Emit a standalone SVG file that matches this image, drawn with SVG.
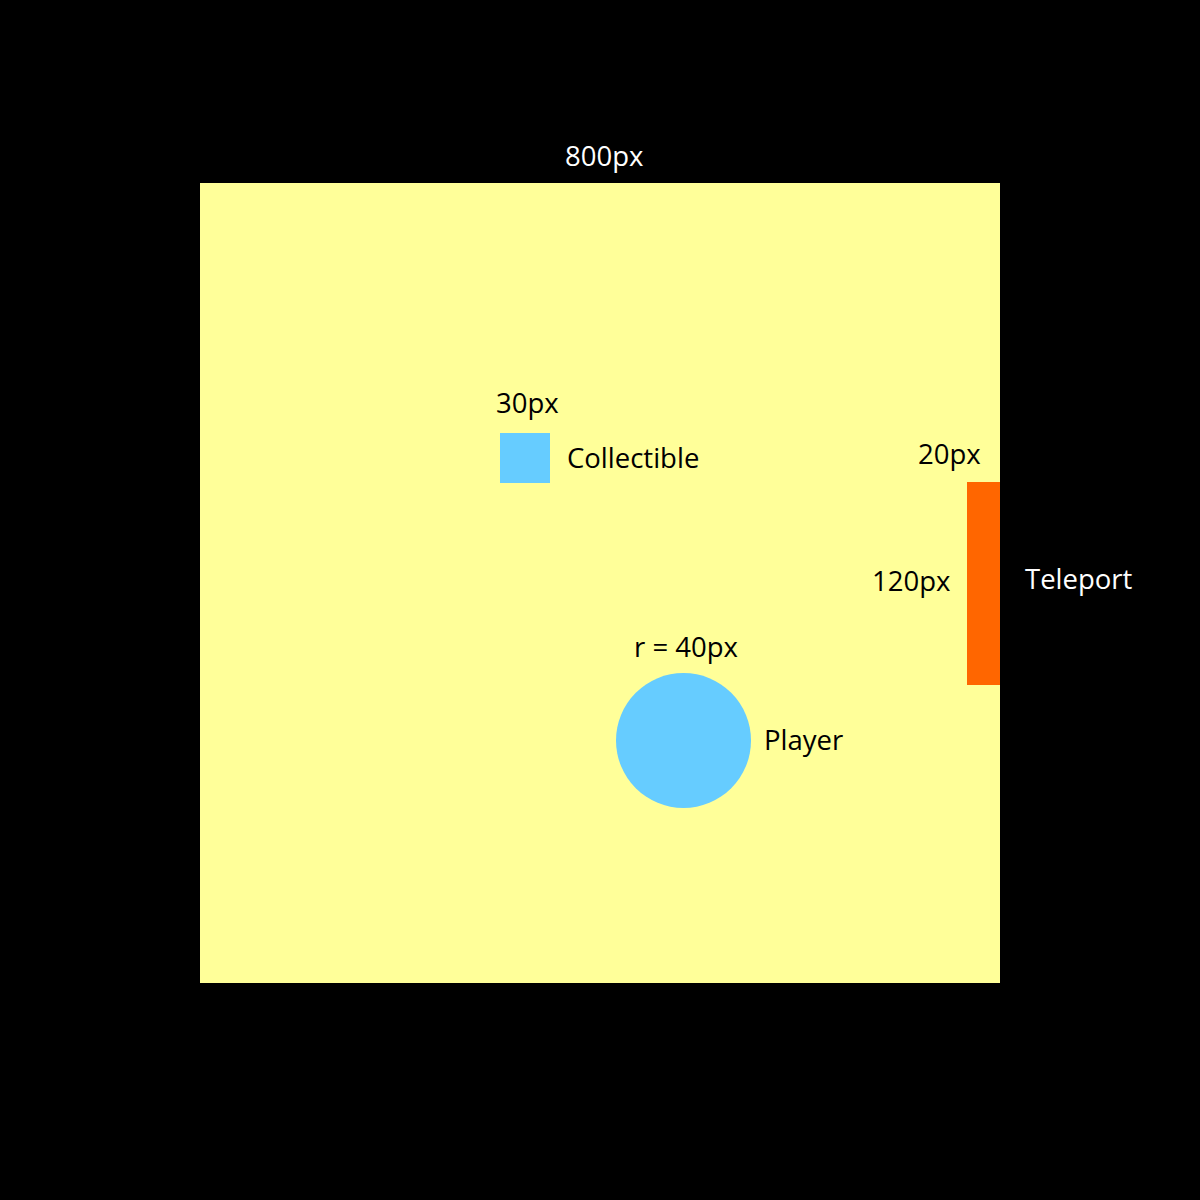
<svg xmlns="http://www.w3.org/2000/svg" width="1200" height="1200" viewBox="0 0 1200 1200">
  <style>
    text { font-family: "Open Sans", "Noto Sans", "Liberation Sans", sans-serif; font-size: 27.5px; }
    .dark { fill: #000000; }
    .light { fill: #FFFFFF; }
  </style>
  <rect x="0" y="0" width="1200" height="1200" fill="#000000"/>
  <g id="board">
    <rect x="200" y="183" width="800" height="800" fill="#FFFF99"/>
    <text class="light" x="565" y="166">800px</text>
  </g>
  <g id="collectible">
    <rect x="500" y="433" width="50" height="50" fill="#66CCFF"/>
    <text class="dark" x="496" y="413">30px</text>
    <text class="dark" x="567" y="468">Collectible</text>
  </g>
  <g id="teleport">
    <rect x="967" y="482" width="33" height="203" fill="#FF6600"/>
    <text class="dark" x="918" y="464">20px</text>
    <text class="dark" x="872" y="591">120px</text>
    <text class="light" x="1025" y="589">Teleport</text>
  </g>
  <g id="player">
    <circle cx="683.5" cy="740.5" r="67.5" fill="#66CCFF"/>
    <text class="dark" x="634" y="657">r = 40px</text>
    <text class="dark" x="764" y="750">Player</text>
  </g>
  <g id="connectors"/>
</svg>
